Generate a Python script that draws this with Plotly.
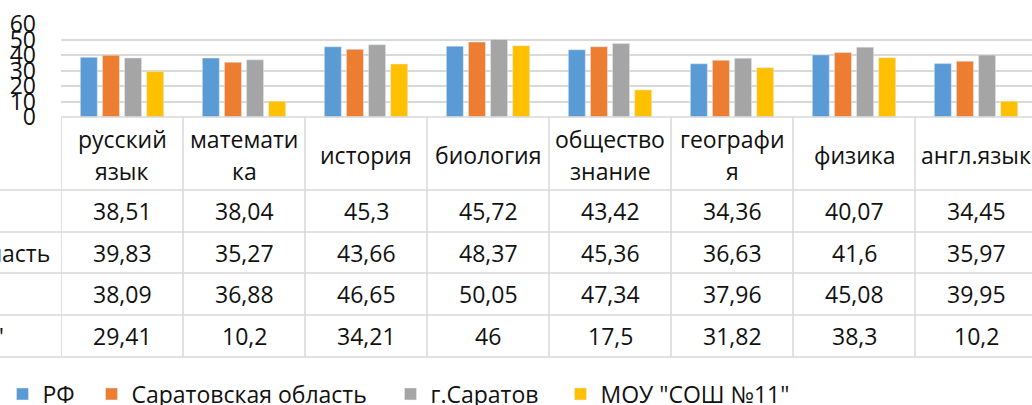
import plotly.graph_objects as go

# ---------------- data ----------------
categories = ["русский язык", "математика", "история", "биология",
              "обществознание", "география", "физика", "англ.язык"]
header_lines = [["русский", "язык"], ["математи", "ка"], ["история"], ["биология"],
                ["общество", "знание"], ["географи", "я"], ["физика"], ["англ.язык"]]
series_names = ["РФ", "Саратовская область", "г.Саратов", "МОУ \"СОШ №11\""]
rf = [38.51, 38.04, 45.3, 45.72, 43.42, 34.36, 40.07, 34.45]
oblast = [39.83, 35.27, 43.66, 48.37, 45.36, 36.63, 41.6, 35.97]
saratov = [38.09, 36.88, 46.65, 50.05, 47.34, 37.96, 45.08, 39.95]
school = [29.41, 10.2, 34.21, 46, 17.5, 31.82, 38.3, 10.2]
series_values = [rf, oblast, saratov, school]
colors = ["#5B9BD5", "#ED7D31", "#A5A5A5", "#FFC000"]

# ---------------- geometry / style (pixels) ----------------
W, H = 1032, 405
L = 61                     # plot-area left edge
COL = 122                  # width of one category column
PLOT_TOP, PLOT_BOT = 24, 117
ROW_EDGES = [190, 232, 273, 315, 357]
LEGEND_SWATCH_CENTERS = [26.5, 115.5, 414.5, 584.5]
LEGEND_Y = 394
FONT = "Open Sans"
TXT = "#111111"
GRID = "#d9d9d9"
FS = 23


def py(ypix):
    return (H - ypix) / H


def px(xpix):
    return (xpix - L) / (W - L)


fig = go.Figure()
legend_ids = ["legend", "legend2", "legend3", "legend4"]
for name, vals, col, lid in zip(series_names, series_values, colors, legend_ids):
    fig.add_bar(x=categories, y=vals, name=name, marker_color=col, legend=lid,
                showlegend=True)

shapes = []
# top border of the table (axis line)
shapes.append(dict(type="line", xref="paper", yref="paper", x0=0, x1=1,
                   y0=py(PLOT_BOT), y1=py(PLOT_BOT), line=dict(color=GRID, width=1.5)))
# horizontal row lines
for ye in ROW_EDGES:
    shapes.append(dict(type="line", xref="paper", yref="paper", x0=px(0), x1=1,
                       y0=py(ye), y1=py(ye), line=dict(color=GRID, width=1.5)))
# vertical column lines
for i in range(len(categories) + 1):
    shapes.append(dict(type="line", xref="x", yref="paper", x0=i - 0.5, x1=i - 0.5,
                       y0=py(PLOT_BOT), y1=py(ROW_EDGES[-1]), line=dict(color=GRID, width=1.5)))

annotations = []
# header texts
for cat, lines in zip(categories, header_lines):
    ys = [155] if len(lines) == 1 else [139, 171]
    for t, yy in zip(lines, ys):
        annotations.append(dict(x=cat, xref="x", y=py(yy), yref="paper", text=t,
                                showarrow=False, xanchor="center", yanchor="middle",
                                font=dict(family=FONT, size=FS, color=TXT)))
# value cells
row_centers = [(ROW_EDGES[k] + ROW_EDGES[k + 1]) / 2 for k in range(4)]
for name, vals, yc in zip(series_names, series_values, row_centers):
    for cat, v in zip(categories, vals):
        annotations.append(dict(x=cat, xref="x", y=py(yc), yref="paper",
                                text=f"{v:g}".replace(".", ","), showarrow=False,
                                xanchor="center", yanchor="middle",
                                font=dict(family=FONT, size=FS, color=TXT)))
    # row label (mostly cut off on the left)
    annotations.append(dict(x=px(-187), xref="paper", y=py(yc), yref="paper", text=name,
                            showarrow=False, xanchor="left", yanchor="middle",
                            font=dict(family=FONT, size=FS, color=TXT)))

legend_style = dict(orientation="h", xref="container", yref="container",
                    xanchor="left", yanchor="middle", y=(H - LEGEND_Y) / H,
                    font=dict(family=FONT, size=FS, color=TXT), bgcolor="rgba(0,0,0,0)")
legends = {}
for lid, cx in zip(legend_ids, LEGEND_SWATCH_CENTERS):
    legends[lid] = dict(legend_style, x=(cx - 24) / W, visible=True)

fig.update_layout(
    width=W, height=H, showlegend=True,
    margin=dict(l=L, r=0, t=0, b=0, autoexpand=False),
    paper_bgcolor="white", plot_bgcolor="white",
    barmode="group", bargap=0.275, bargroupgap=0.23,
    xaxis=dict(range=[-0.5, len(categories) - 0.5 - 5 / COL], showticklabels=False,
               showgrid=False, zeroline=False, showline=False, ticks=""),
    yaxis=dict(domain=[py(PLOT_BOT), py(PLOT_TOP)], range=[0, 60], tickmode="linear",
               tick0=0, dtick=10, showgrid=True, gridcolor=GRID, gridwidth=1.5,
               zeroline=False, showline=False, ticks="", ticklabelstandoff=24,
               tickfont=dict(family=FONT, size=FS, color=TXT)),
    shapes=shapes, annotations=annotations,
    **legends,
)

fig.write_html("out.html", config={"displayModeBar": False},
               post_script="document.body.style.margin='0px';")
